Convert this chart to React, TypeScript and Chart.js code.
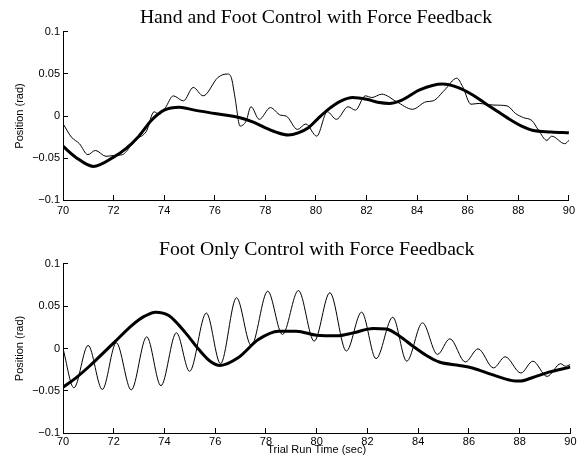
import React, { useEffect, useRef } from 'react';
import { Chart, registerables } from 'chart.js';

Chart.register(...registerables);
Chart.defaults.font.family = "'Liberation Sans', Arial, sans-serif";

// ---- axis ranges / ticks ----
const xMin = 70;
const xMax = 90;
const xStep = 2;
const yMin = -0.1;
const yMax = 0.1;
const yStep = 0.05;

const topTitle = 'Hand and Foot Control with Force Feedback';
const bottomTitle = 'Foot Only Control with Force Feedback';
const yTitle = 'Position (rad)';
const xTitle = 'Trial Run Time (sec)';

// ---- top panel: thick (smooth) curve ----
const topThickT = [70.0, 70.5, 71.2, 72.0, 72.5, 73.0, 73.5, 74.0, 74.6, 75.2, 76.0, 77.0, 77.5, 78.0, 78.5, 78.9, 79.3, 79.7, 80.05, 80.45, 81.0, 81.45, 82.0, 82.5, 82.9, 83.4, 84.1, 85.0, 85.6, 86.2, 86.7, 87.2, 87.75, 88.2, 88.55, 89.3, 90.0];
const topThickV = [-0.036, -0.049, -0.060, -0.049, -0.0385, -0.024, -0.005, 0.007, 0.0105, 0.007, 0.003, -0.002, -0.007, -0.014, -0.020, -0.0225, -0.020, -0.014, -0.004, 0.007, 0.018, 0.022, 0.020, 0.016, 0.015, 0.019, 0.031, 0.038, 0.034, 0.025, 0.015, 0.005, -0.0056, -0.013, -0.017, -0.019, -0.020];

// ---- top panel: thin (measured) curve ----
const topThinT = [70.0, 70.33, 70.65, 70.98, 71.28, 71.7, 72.0, 72.35, 72.67, 72.95, 73.1, 73.3, 73.6, 73.8, 74.05, 74.36, 74.76, 75.15, 75.54, 76.13, 76.5, 76.65, 76.8, 77.0, 77.24, 77.43, 77.76, 78.2, 78.6, 78.82, 79.27, 79.6, 80.03, 80.45, 80.81, 81.27, 81.56, 81.95, 82.21, 82.6, 83.19, 83.82, 84.36, 84.63, 85.09, 85.57, 85.8, 86.13, 86.45, 86.71, 87.04, 87.56, 87.89, 88.21, 88.54, 88.8, 89.13, 89.32, 89.84, 90.0];
const topThinV = [-0.009, -0.025, -0.033, -0.046, -0.041, -0.048, -0.047, -0.046, -0.036, -0.026, -0.024, -0.018, 0.005, 0.002, 0.010, 0.024, 0.018, 0.034, 0.024, 0.046, 0.050, 0.046, 0.022, -0.012, -0.006, 0.011, -0.004, 0.010, 0.001, 0.000, -0.016, -0.0095, -0.024, 0.005, -0.004, 0.011, 0.007, 0.024, 0.022, 0.026, 0.017, 0.008, 0.017, 0.018, 0.031, 0.045, 0.035, 0.014, 0.015, 0.014, 0.013, 0.012, 0.003, -0.002, -0.0055, -0.017, -0.029, -0.024, -0.033, -0.029];

// ---- bottom panel: thick (smooth) curve ----
const botThickT = [70.0, 70.5, 71.04, 72.0, 72.74, 73.2, 73.65, 74.17, 74.83, 75.35, 75.8, 76.2, 76.9, 77.7, 78.5, 79.2, 80.0, 80.8, 81.44, 82.22, 82.74, 83.27, 83.79, 84.31, 84.83, 85.62, 86.14, 86.92, 87.7, 88.0, 88.49, 89.15, 90.0];
const botThickV = [-0.046, -0.035, -0.021, 0.0067, 0.028, 0.038, 0.043, 0.039, 0.0185, -0.001, -0.015, -0.020, -0.011, 0.0106, 0.0205, 0.0205, 0.0157, 0.015, 0.0185, 0.0236, 0.023, 0.0146, 0.0028, -0.008, -0.016, -0.020, -0.023, -0.031, -0.038, -0.0386, -0.0346, -0.028, -0.022];

// ---- bottom panel: thin (oscillating) curve, peaks and troughs ----
const botThinT = [70.0, 70.43, 70.99, 71.55, 72.1, 72.69, 73.3, 73.86, 74.47, 74.99, 75.65, 76.21, 76.84, 77.42, 78.07, 78.65, 79.28, 79.9, 80.52, 81.17, 81.77, 82.34, 83.0, 83.55, 84.17, 84.76, 85.25, 85.86, 86.36, 86.97, 87.43, 88.05, 88.52, 89.08, 89.62, 89.8, 90.0];
const botThinV = [0.0, -0.0465, 0.0036, -0.0485, 0.0067, -0.049, 0.0138, -0.044, 0.0186, -0.027, 0.042, -0.018, 0.060, 0.0036, 0.0678, 0.0166, 0.0686, 0.0087, 0.066, -0.003, 0.043, -0.012, 0.037, -0.015, 0.0304, -0.007, 0.0115, -0.016, -0.0004, -0.023, -0.0098, -0.029, -0.015, -0.033, -0.018, -0.021, -0.019];

function fmtY(v: number): string {
  const r = Math.round(v * 100) / 100;
  if (r === 0) return '0';
  const s = String(Math.abs(r));
  return r < 0 ? '\u2212' + s : s;
}

type PanelProps = {
  title: string;
  thinT: number[];
  thinV: number[];
  thickT: number[];
  thickV: number[];
  showXTitle: boolean;
  height: number;
  xAxisHeight: number;
  xLabelPad: number;
};

function Panel(props: PanelProps) {
  const ref = useRef<HTMLCanvasElement>(null);
  useEffect(() => {
    const { title, thinT, thinV, thickT, thickV, showXTitle, xAxisHeight, xLabelPad } = props;
    const chart = new Chart(ref.current as HTMLCanvasElement, {
      type: 'line',
      data: {
        datasets: [
          {
            data: thickT.map((x, i) => ({ x, y: thickV[i] })),
            borderColor: '#000',
            borderWidth: 3,
            pointRadius: 0,
            cubicInterpolationMode: 'monotone',
            fill: false,
          },
          {
            data: thinT.map((x, i) => ({ x, y: thinV[i] })),
            borderColor: '#000',
            borderWidth: 1,
            pointRadius: 0,
            cubicInterpolationMode: 'monotone',
            fill: false,
          },
        ],
      },
      options: {
        animation: false,
        responsive: false,
        devicePixelRatio: 1,
        layout: { padding: { left: 0, right: 10, top: 0, bottom: 0 } },
        plugins: {
          legend: { display: false },
          tooltip: { enabled: false },
          title: {
            display: true,
            text: title,
            fullSize: false,
            color: '#000',
            font: { family: "'Liberation Serif', 'Times New Roman', serif", size: 19.7, weight: 'normal', lineHeight: 1.2 },
            padding: { top: 6.3, bottom: 2.06 },
          },
        },
        scales: {
          x: {
            type: 'linear',
            min: xMin,
            max: xMax,
            ticks: {
              stepSize: xStep,
              color: '#000',
              padding: xLabelPad,
              font: { size: 11 },
              maxRotation: 0,
              autoSkip: false,
            },
            grid: { drawOnChartArea: false, drawTicks: true, tickLength: -5, color: '#000' },
            border: { display: true, color: '#000', width: 1 },
            title: showXTitle
              ? { display: true, text: xTitle, color: '#000', font: { size: 11 }, padding: { top: 0, bottom: 5.4 } }
              : { display: false },
            afterFit: (s: any) => {
              s.height = xAxisHeight;
            },
          },
          y: {
            type: 'linear',
            min: yMin,
            max: yMax,
            ticks: {
              stepSize: yStep,
              color: '#000',
              padding: 8,
              font: { size: 11 },
              callback: (v: any) => fmtY(Number(v)),
            },
            grid: { drawOnChartArea: false, drawTicks: true, tickLength: -5, color: '#000' },
            border: { display: true, color: '#000', width: 1 },
            title: { display: true, text: yTitle, color: '#000', font: { size: 11 }, padding: { top: 13, bottom: 0 } },
            afterFit: (s: any) => {
              s.width = 63;
            },
          },
        },
      },
    } as any);
    return () => chart.destroy();
  }, []);
  return (
    <canvas
      ref={ref}
      width={584}
      height={props.height}
      style={{ display: 'block', width: 584, height: props.height }}
    />
  );
}

export default function App() {
  return (
    <div style={{ position: 'absolute', left: 0, top: 0, width: 584, height: 462, background: '#fff' }}>
      <Panel
        title={topTitle}
        thinT={topThinT}
        thinV={topThinV}
        thickT={topThickT}
        thickV={topThickV}
        showXTitle={false}
        height={232}
        xAxisHeight={32}
        xLabelPad={9}
      />
      <Panel
        title={bottomTitle}
        thinT={botThinT}
        thinV={botThinV}
        thickT={botThickT}
        thickV={botThickV}
        showXTitle={true}
        height={230}
        xAxisHeight={29}
        xLabelPad={7.5}
      />
    </div>
  );
}
